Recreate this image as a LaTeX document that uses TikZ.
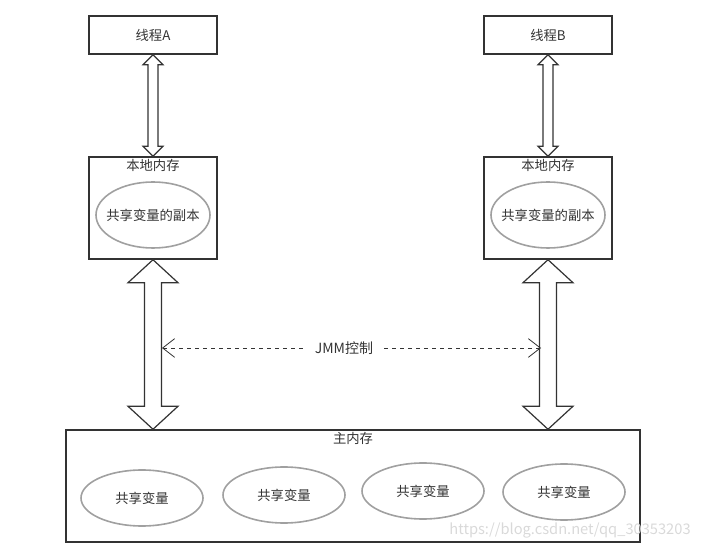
\documentclass[tikz,border=0pt]{standalone}
\usepackage{fontspec}
\setmainfont{Noto Sans CJK SC}
\usepackage{xcolor}
\usepackage{tikz}
\usetikzlibrary{positioning, arrows.meta, calc, shapes.geometric}

\definecolor{inkgray}{HTML}{333333}
\definecolor{ringgray}{HTML}{A0A0A0}

% hollow two-headed arrow between two points on one vertical line
% #1 top, #2 bottom, #3 half shaft, #4 half head, #5 head length
\newcommand{\dblarrow}[5]{%
  \draw[hollowarrow] let \p1=(#1), \p2=(#2) in
    (\x1,\y1) -- (\x1+#4,\y1-#5) -- (\x1+#3,\y1-#5) -- (\x1+#3,\y2+#5)
    -- (\x1+#4,\y2+#5) -- (\x1,\y2) -- (\x1-#4,\y2+#5) -- (\x1-#3,\y2+#5)
    -- (\x1-#3,\y1-#5) -- (\x1-#4,\y1-#5) -- cycle;}

\begin{document}
\begin{tikzpicture}[
    x=0.75pt, y=-0.75pt,
    every node/.style={text=inkgray, font=\fontsize{10}{12}\selectfont},
    box/.style={rectangle, draw=inkgray, line width=1.1pt, inner sep=0pt},
    ring/.style={ellipse, draw=ringgray, line width=1.2pt, minimum width=91.5pt, minimum height=42pt, inner sep=0pt},
    hollowarrow/.style={draw=inkgray, fill=white, line width=0.9pt, line join=miter},
    dashline/.style={dashed, draw=inkgray, line width=0.6pt, {Straight Barb[length=9pt,width=14pt]}-}
]
\useasboundingbox (0,0) rectangle (701,549);

% threads
\node[box, minimum width=96pt, minimum height=28.5pt] (thrA) at (153,35) {线程A};
\node[box, minimum width=96pt, minimum height=28.5pt] (thrB) at (548,35) {线程B};

% local memory
\node[box, minimum width=96pt, minimum height=76.5pt] (locA) at (153,208) {};
\node[box, minimum width=96pt, minimum height=76.5pt] (locB) at (548,208) {};
\node (lblA) at (153,165) {本地内存};
\node (lblB) at (548,165) {本地内存};
\node[ring, minimum width=85.5pt, minimum height=49.5pt] (copyA) at (153,215) {};
\node[ring, minimum width=85.5pt, minimum height=49.5pt] (copyB) at (548,215) {};
\node (copyAtxt) at (copyA) {共享变量的副本};
\node (copyBtxt) at (copyB) {共享变量的副本};

% main memory
\node[box, minimum width=430.5pt, minimum height=84pt] (mainmem) at (353,486) {};
\node (memlbl) at (353,438) {主内存};
\node[ring] (var1) at (142,498) {共享变量};
\node[ring] (var2) at (284,495) {共享变量};
\node[ring] (var3) at (423,491) {共享变量};
\node[ring] (var4) at (564,492) {共享变量};

\coordinate (memA) at (mainmem.north -| locA.south);
\coordinate (memB) at (mainmem.north -| locB.south);

% arrows
\dblarrow{thrA.south}{locA.north}{3.75pt}{7.5pt}{7.5pt}
\dblarrow{thrB.south}{locB.north}{3.75pt}{7.5pt}{7.5pt}
\dblarrow{locA.south}{memA}{6.4pt}{18.75pt}{17.25pt}
\dblarrow{locB.south}{memB}{6.4pt}{18.75pt}{17.25pt}

% JMM control
\coordinate (jmmL) at (162,348);
\coordinate (jmmR) at (541,348);
\node[inner sep=7pt, font=\fontsize{10.5}{12}\selectfont] (jmm) at (344,348) {JMM控制};
\draw[dashline] (jmmL) -- (jmm.west);
\draw[dashline] (jmmR) -- (jmm.east);

\node[text=gray!30, font=\fontsize{11}{12}\selectfont] (mark) at (570,530) {https://blog.csdn.net/qq\_30353203};

\end{tikzpicture}
\end{document}
